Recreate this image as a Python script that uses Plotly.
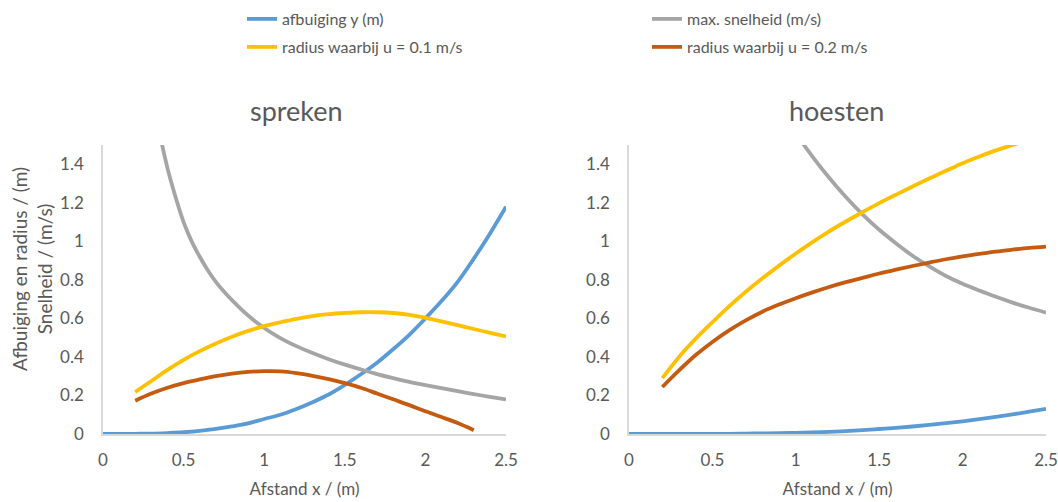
import plotly.graph_objects as go

# ---- spreken ----
sp_x_afb = [0, 0.1, 0.2, 0.3, 0.4, 0.5, 0.6, 0.7, 0.8, 0.9, 1.0, 1.1, 1.2, 1.3,
            1.4, 1.5, 1.6, 1.7, 1.8, 1.9, 2.0, 2.1, 2.2, 2.3, 2.4, 2.5]
sp_afb = [0, 0, 0.001, 0.002, 0.005, 0.009, 0.016, 0.026, 0.039, 0.055, 0.078, 0.10,
          0.13, 0.165, 0.205, 0.255, 0.31, 0.37, 0.44, 0.515, 0.60, 0.69, 0.79, 0.91,
          1.04, 1.18]

sp_x_snel = [0.3, 0.35, 0.4, 0.45, 0.5, 0.55, 0.6, 0.65, 0.7, 0.75, 0.8, 0.9, 1.0,
             1.1, 1.2, 1.3, 1.4, 1.5, 1.6, 1.7, 1.8, 1.9, 2.0, 2.1, 2.2, 2.3, 2.4, 2.5]
sp_snel = [1.83, 1.57, 1.38, 1.23, 1.10, 1.0, 0.92, 0.85, 0.79, 0.74, 0.695, 0.615,
           0.55, 0.498, 0.456, 0.42, 0.388, 0.36, 0.335, 0.311, 0.29, 0.271, 0.254,
           0.238, 0.222, 0.207, 0.193, 0.18]

sp_x_r01 = [0.2, 0.3, 0.4, 0.5, 0.6, 0.7, 0.8, 0.9, 1.0, 1.1, 1.2, 1.3, 1.4, 1.5,
            1.6, 1.7, 1.8, 1.9, 2.0, 2.1, 2.2, 2.3, 2.4, 2.5]
sp_r01 = [0.218, 0.275, 0.333, 0.385, 0.43, 0.47, 0.505, 0.535, 0.56, 0.58, 0.598,
          0.612, 0.622, 0.628, 0.632, 0.632, 0.628, 0.618, 0.603, 0.585, 0.565, 0.545,
          0.525, 0.506]

sp_x_r02 = [0.2, 0.3, 0.4, 0.5, 0.6, 0.7, 0.8, 0.9, 1.0, 1.1, 1.2, 1.3, 1.4, 1.5,
            1.6, 1.7, 1.8, 1.9, 2.0, 2.1, 2.2, 2.3]
sp_r02 = [0.173, 0.21, 0.24, 0.264, 0.283, 0.30, 0.313, 0.322, 0.326, 0.325, 0.316,
          0.302, 0.285, 0.264, 0.24, 0.21, 0.18, 0.15, 0.118, 0.088, 0.057, 0.02]

# ---- hoesten ----
ho_x_afb = [0, 0.1, 0.2, 0.3, 0.4, 0.5, 0.6, 0.7, 0.8, 0.9, 1.0, 1.1, 1.2, 1.3,
            1.4, 1.5, 1.6, 1.7, 1.8, 1.9, 2.0, 2.1, 2.2, 2.3, 2.4, 2.5]
ho_afb = [0, 0, 0, 0, 0, 0.001, 0.001, 0.002, 0.003, 0.004, 0.006, 0.008, 0.011,
          0.015, 0.02, 0.026, 0.032, 0.039, 0.047, 0.056, 0.066, 0.077, 0.089, 0.102,
          0.116, 0.13]

ho_x_snel = [0.9, 1.0, 1.1, 1.2, 1.3, 1.4, 1.5, 1.6, 1.7, 1.8, 1.9, 2.0, 2.1, 2.2,
             2.3, 2.4, 2.5]
ho_snel = [1.69, 1.56, 1.44, 1.33, 1.23, 1.14, 1.06, 0.99, 0.925, 0.87, 0.82, 0.78,
           0.745, 0.712, 0.682, 0.655, 0.63]

ho_x_r = [0.2, 0.3, 0.4, 0.5, 0.6, 0.7, 0.8, 0.9, 1.0, 1.1, 1.2, 1.3, 1.4, 1.5,
          1.6, 1.7, 1.8, 1.9, 2.0, 2.1, 2.2, 2.3, 2.4, 2.5]
ho_r01 = [0.29, 0.40, 0.495, 0.58, 0.662, 0.738, 0.808, 0.874, 0.937, 0.996, 1.052,
          1.103, 1.151, 1.198, 1.242, 1.285, 1.326, 1.366, 1.405, 1.44, 1.472, 1.50,
          1.53, 1.56]
ho_r02 = [0.244, 0.33, 0.41, 0.478, 0.538, 0.59, 0.635, 0.672, 0.705, 0.735, 0.763,
          0.788, 0.81, 0.833, 0.853, 0.872, 0.89, 0.907, 0.922, 0.935, 0.947, 0.957,
          0.966, 0.973]

names = ["afbuiging y (m)", "max. snelheid (m/s)",
         "radius waarbij u = 0.1 m/s", "radius waarbij u = 0.2 m/s"]
colors = ["#5B9BD5", "#A5A5A5", "#FFC000", "#C55A11"]
legend_ids = ["legend", "legend", "legend2", "legend2"]

TXT = "#595959"
FONT = "Lato"

fig = go.Figure()

panels = [
    ("x", "y", [(sp_x_afb, sp_afb), (sp_x_snel, sp_snel), (sp_x_r01, sp_r01), (sp_x_r02, sp_r02)]),
    ("x2", "y2", [(ho_x_afb, ho_afb), (ho_x_snel, ho_snel), (ho_x_r, ho_r01), (ho_x_r, ho_r02)]),
]
for pi, (xa, ya, series) in enumerate(panels):
    for i, (xs, ys) in enumerate(series):
        fig.add_trace(go.Scatter(
            x=xs, y=ys, mode="lines", name=names[i],
            line=dict(color=colors[i], width=3.8, shape="spline", smoothing=1.0),
            xaxis=xa, yaxis=ya, showlegend=(pi == 0), legend=legend_ids[i],
        ))

axis_common = dict(
    showgrid=False, zeroline=False, showline=True, linecolor="#D9D9D9", linewidth=1.5,
    ticks="", automargin=False, tickfont=dict(family=FONT, size=17, color=TXT),
)
xa_common = dict(axis_common, range=[0, 2.5], tickvals=[0, 0.5, 1, 1.5, 2, 2.5],
                 ticktext=["0", "0.5", "1", "1.5", "2", "2.5"], ticklabelstandoff=10,
                 title=dict(text="Afstand x / (m)", font=dict(family=FONT, size=17, color=TXT),
                            standoff=14))
ya_common = dict(axis_common, range=[0, 1.5], tickvals=[0, 0.2, 0.4, 0.6, 0.8, 1, 1.2, 1.4],
                 ticktext=["0", "0.2", "0.4", "0.6", "0.8", "1", "1.2", "1.4"],
                 ticklabelstandoff=14)

legend_common = dict(orientation="h", xanchor="left", yanchor="middle",
                     entrywidth=360, font=dict(family=FONT, size=16, color=TXT),
                     itemwidth=30, bgcolor="rgba(0,0,0,0)")

title_font = dict(family=FONT, size=27, color=TXT)

fig.update_layout(
    width=1058, height=502,
    margin=dict(l=0, r=0, t=0, b=0, autoexpand=False),
    paper_bgcolor="white", plot_bgcolor="white",
    font=dict(family=FONT, color=TXT),
    xaxis=dict(xa_common, domain=[103 / 1058, 506 / 1058], anchor="y"),
    yaxis=dict(ya_common, domain=[1 - 434 / 502, 1 - 145 / 502], anchor="x"),
    xaxis2=dict(xa_common, domain=[629 / 1058, 1046 / 1058], anchor="y2"),
    yaxis2=dict(ya_common, domain=[1 - 434 / 502, 1 - 145 / 502], anchor="x2"),
    legend=dict(legend_common, x=242 / 1058, y=1 - 19 / 502),
    legend2=dict(legend_common, x=242 / 1058, y=1 - 47 / 502),
    annotations=[
        dict(text="spreken", x=296 / 1058, y=1 - 110 / 502, xref="paper", yref="paper",
             xanchor="center", yanchor="middle", showarrow=False, font=title_font),
        dict(text="hoesten", x=836 / 1058, y=1 - 110 / 502, xref="paper", yref="paper",
             xanchor="center", yanchor="middle", showarrow=False, font=title_font),
        dict(text="Afbuiging en radius / (m)<br>Snelheid / (m/s)", textangle=-90,
             x=32 / 1058, y=1 - 269 / 502, xref="paper", yref="paper",
             xanchor="center", yanchor="middle", showarrow=False,
             font=dict(family=FONT, size=19, color=TXT)),
    ],
)

fig.write_html("out.html")
